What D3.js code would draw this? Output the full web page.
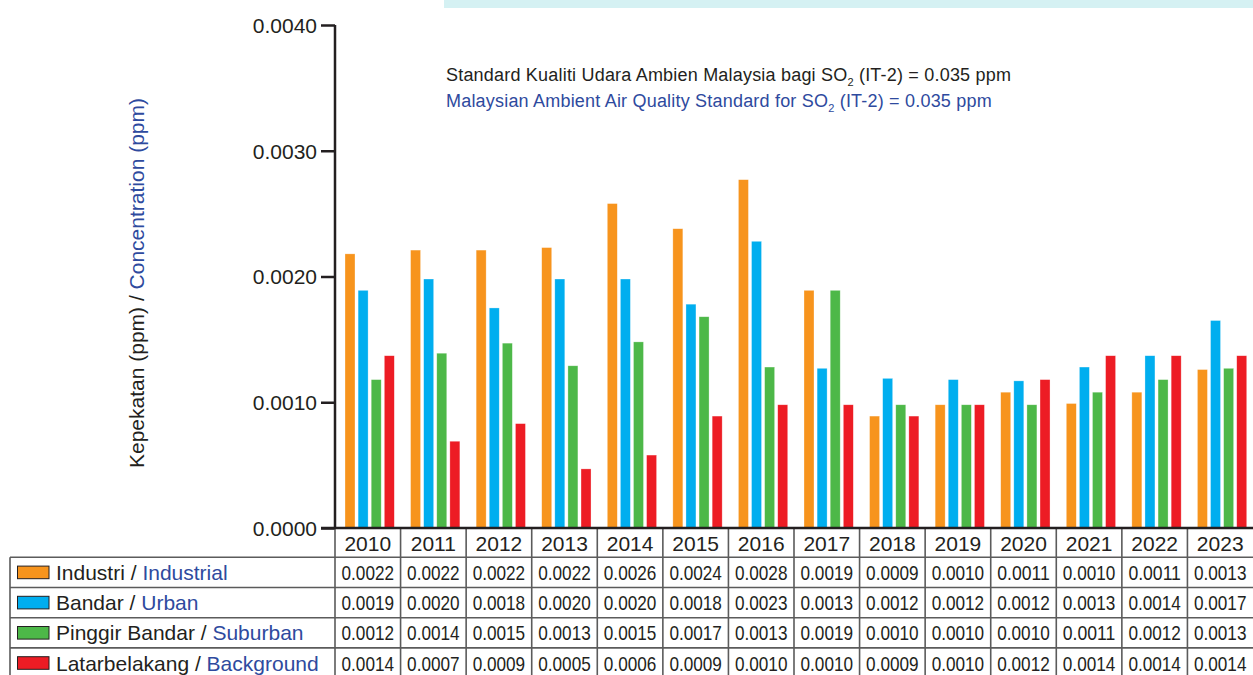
<!DOCTYPE html>
<html>
<head>
<meta charset="utf-8">
<script src="https://cdn.jsdelivr.net/npm/d3@7"></script>
<style>
  body { margin: 0; background: #fff; }
  text { font-family: "Liberation Sans", Arial, sans-serif; }
</style>
</head>
<body>
<div id="chart"></div>
<script>
// ---- data ----
const years = ['2010','2011','2012','2013','2014','2015','2016','2017','2018','2019','2020','2021','2022','2023'];
const seriesKeys = ['industrial', 'urban', 'suburban', 'background'];
const seriesMalay = ['Industri', 'Bandar', 'Pinggir Bandar', 'Latarbelakang'];
const seriesEnglish = ['Industrial', 'Urban', 'Suburban', 'Background'];
const seriesColors = ['#f7941d', '#00aeef', '#4db848', '#ed1c24'];

// bar heights as drawn (ppm)
const industrial = [0.00218, 0.00221, 0.00221, 0.00223, 0.00258, 0.00238, 0.00277, 0.00189, 0.00089, 0.00098, 0.00108, 0.00099, 0.00108, 0.00126];
const urban      = [0.00189, 0.00198, 0.00175, 0.00198, 0.00198, 0.00178, 0.00228, 0.00127, 0.00119, 0.00118, 0.00117, 0.00128, 0.00137, 0.00165];
const suburban   = [0.00118, 0.00139, 0.00147, 0.00129, 0.00148, 0.00168, 0.00128, 0.00189, 0.00098, 0.00098, 0.00098, 0.00108, 0.00118, 0.00127];
const background = [0.00137, 0.00069, 0.00083, 0.00047, 0.00058, 0.00089, 0.00098, 0.00098, 0.00089, 0.00098, 0.00118, 0.00137, 0.00137, 0.00137];

// values printed in the table
const industrialTable = ['0.0022','0.0022','0.0022','0.0022','0.0026','0.0024','0.0028','0.0019','0.0009','0.0010','0.0011','0.0010','0.0011','0.0013'];
const urbanTable      = ['0.0019','0.0020','0.0018','0.0020','0.0020','0.0018','0.0023','0.0013','0.0012','0.0012','0.0012','0.0013','0.0014','0.0017'];
const suburbanTable   = ['0.0012','0.0014','0.0015','0.0013','0.0015','0.0017','0.0013','0.0019','0.0010','0.0010','0.0010','0.0011','0.0012','0.0013'];
const backgroundTable = ['0.0014','0.0007','0.0009','0.0005','0.0006','0.0009','0.0010','0.0010','0.0009','0.0010','0.0012','0.0014','0.0014','0.0014'];

const yTicks = [0, 0.001, 0.002, 0.003, 0.004];

const seriesValues = [industrial, urban, suburban, background];
const seriesTable = [industrialTable, urbanTable, suburbanTable, backgroundTable];

// ---- layout ----
const width = 1253, height = 675;
const dark = '#231f20', blue = '#2e4a9e', gridCol = '#5b5b5b';
const axisX = 335, baseY = 528;

const svg = d3.select('#chart').append('svg')
  .attr('width', width)
  .attr('height', height);

// light band at top
svg.append('rect')
  .attr('x', 444).attr('y', 0)
  .attr('width', width - 444).attr('height', 8)
  .attr('fill', '#d5f1f3');

const x0 = d3.scaleBand().domain(years).range([axisX, width]).padding(0);
const x1 = d3.scaleBand().domain(seriesKeys).range([10, 59.3]).paddingInner(0.237);
const y = d3.scaleLinear().domain([0, 0.004]).range([baseY, 25]);

// bars
const rows = years.map((yr, i) => ({ year: yr, vals: seriesKeys.map((k, s) => ({ key: k, s: s, v: seriesValues[s][i] })) }));

const groups = svg.append('g').selectAll('g')
  .data(rows)
  .enter()
  .append('g')
    .attr('transform', d => `translate(${x0(d.year)},0)`);

groups.selectAll('rect')
  .data(d => d.vals)
  .enter()
  .append('rect')
    .attr('x', d => x1(d.key))
    .attr('y', d => y(d.v))
    .attr('width', x1.bandwidth())
    .attr('height', d => baseY - y(d.v))
    .attr('fill', d => seriesColors[d.s])
    .attr('stroke', '#fff')
    .attr('stroke-opacity', 0.5)
    .attr('stroke-width', 0.6);

// y axis
const yAxis = svg.append('g')
  .attr('transform', `translate(${axisX},0)`)
  .call(d3.axisLeft(y).tickValues(yTicks).tickFormat(d3.format('.4f')).tickSize(14).tickPadding(4));
yAxis.select('.domain').attr('stroke', dark).attr('stroke-width', 2.5).attr('d', `M0,25V${baseY + 1}`);
yAxis.selectAll('.tick line').attr('stroke', dark).attr('stroke-width', 2.5);
yAxis.selectAll('.tick text')
  .attr('font-size', 21).attr('fill', dark)
  .attr('font-family', '"Liberation Sans", Arial, sans-serif')
  .attr('dy', '0.35em');

// y axis title
const yTitle = svg.append('text')
  .attr('transform', 'translate(144,283) rotate(-90)')
  .attr('text-anchor', 'middle')
  .attr('font-size', 21)
  .attr('fill', dark);
yTitle.append('tspan').text('Kepekatan (ppm) / ');
yTitle.append('tspan').attr('fill', blue).text('Concentration (ppm)');

// standard annotation
function annot(yPos, pre, post, color) {
  const t = svg.append('text')
    .attr('x', 446).attr('y', yPos)
    .attr('font-size', 18)
    .attr('letter-spacing', 0.2)
    .attr('fill', color);
  t.append('tspan').text(pre);
  t.append('tspan').attr('font-size', 11).attr('dy', 5).text('2');
  t.append('tspan').attr('dy', -5).text(post);
}
annot(81, 'Standard Kualiti Udara Ambien Malaysia bagi SO', ' (IT-2) = 0.035 ppm', dark);
annot(107, 'Malaysian Ambient Air Quality Standard for SO', ' (IT-2) = 0.035 ppm', blue);

// ---- data table ----
const headerBottom = 557.3, rowH = 30.2;
const rowTop = i => headerBottom + i * rowH;
const table = svg.append('g');

// year header
table.selectAll('.yr')
  .data(years)
  .enter()
  .append('text')
    .attr('x', d => x0(d) + x0.bandwidth() / 2)
    .attr('y', 550.7)
    .attr('text-anchor', 'middle')
    .attr('font-size', 21)
    .attr('fill', dark)
    .text(d => d);

// values
seriesTable.forEach((vals, s) => {
  table.selectAll('.v' + s)
    .data(vals)
    .enter()
    .append('text')
      .attr('x', (d, i) => x0(years[i]) + x0.bandwidth() / 2)
      .attr('y', rowTop(s) + rowH / 2 + 7.5)
      .attr('text-anchor', 'middle')
      .attr('font-size', 21)
      .attr('textLength', 52.5)
      .attr('lengthAdjust', 'spacingAndGlyphs')
      .attr('fill', dark)
      .text(d => d);
});

// legend labels with swatches
seriesKeys.forEach((k, s) => {
  const cy = rowTop(s) + rowH / 2;
  table.append('rect')
    .attr('x', 17.5).attr('y', cy - 6.3)
    .attr('width', 31.5).attr('height', 12.6)
    .attr('fill', seriesColors[s])
    .attr('stroke', dark).attr('stroke-width', 1);
  const t = table.append('text')
    .attr('x', 56).attr('y', cy + 7.5)
    .attr('font-size', 21)
    .attr('fill', dark);
  t.append('tspan').text(seriesMalay[s] + ' / ');
  t.append('tspan').attr('fill', blue).text(seriesEnglish[s]);
});

// grid lines
const lines = table.append('g').attr('stroke', gridCol).attr('stroke-width', 1.6).attr('fill', 'none');
for (let r = 0; r <= 4; r++) {
  lines.append('line')
    .attr('x1', 10).attr('x2', width)
    .attr('y1', rowTop(r)).attr('y2', rowTop(r));
}
lines.append('line').attr('x1', 10).attr('x2', 10).attr('y1', rowTop(0)).attr('y2', height);
years.forEach(yr => {
  lines.append('line')
    .attr('x1', x0(yr)).attr('x2', x0(yr))
    .attr('y1', baseY).attr('y2', height);
});

// x axis baseline (top border of the table)
svg.append('line')
  .attr('x1', 321).attr('x2', width)
  .attr('y1', baseY).attr('y2', baseY)
  .attr('stroke', dark).attr('stroke-width', 2.5);
</script>
</body>
</html>
